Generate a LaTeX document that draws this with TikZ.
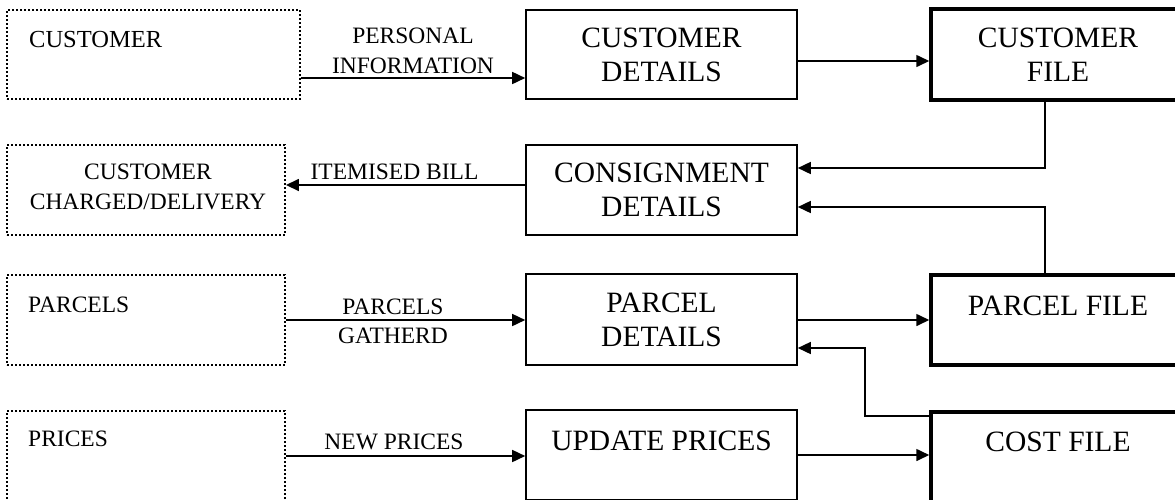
\documentclass[tikz,border=0pt]{standalone}
\usepackage{fontspec}
\setmainfont{Liberation Serif}
\usetikzlibrary{arrows.meta}
\newcommand\bigfont{\fontsize{29.5}{34}\selectfont}
\newcommand\smallfont{\fontsize{23.5}{29.5}\selectfont}
\begin{document}
\begin{tikzpicture}[x=1pt,y=-1pt,
  ext/.style={draw, line width=1.9pt, dash pattern=on 1.8pt off 2.2pt, minimum width=278pt, minimum height=90pt, inner sep=0pt},
  proc/.style={draw, line width=1.6pt, minimum width=271pt, minimum height=90pt, inner sep=0pt, align=center, font=\bigfont},
  store/.style={draw, line width=3.5pt, minimum width=254pt, minimum height=90pt, inner sep=0pt, align=center, font=\bigfont},
  small/.style={font=\smallfont, inner sep=0pt, align=center},
  bigtext/.style={font=\bigfont, inner sep=0pt, align=center},
  arr/.style={line width=1.6pt, -{Triangle[length=13pt,width=12pt]}}
]
\clip (0,0) rectangle (1175,499);
% external entities
\node[ext, minimum width=293pt, minimum height=89pt] (c1) at (153.5,54.5) {};
\node[ext] (c2) at (146,190) {};
\node[ext] (c3) at (146,320) {};
\node[ext] (c4) at (146,456) {};
\node[small, anchor=base west, font=\fontsize{24.5}{29.5}\selectfont] (t1) at (29,47) {CUSTOMER};
\node[small] (t2) at (148,187) {CUSTOMER\\CHARGED/DELIVERY};
\node[small, anchor=base west] (t3) at (28,312) {PARCELS};
\node[small, anchor=base west] (t4) at (28,446) {PRICES};
% processes
\node[proc, minimum height=89pt] (m1) at (661.5,54.5) {CUSTOMER\\DETAILS};
\node[proc] (m2) at (661.5,190) {CONSIGNMENT\\DETAILS};
\node[proc, minimum height=91pt] (m3) at (661.5,319.5) {PARCEL\\DETAILS};
\node[proc] (m4) at (661.5,455) {};
\node[bigtext] (t5) at (661.5,440.5) {UPDATE PRICES};
% stores
\node[store, minimum height=91pt] (f1) at (1058,54.5) {CUSTOMER\\FILE};
\node[store] (f2) at (1058,320) {};
\node[bigtext] (t6) at (1058,305.5) {PARCEL FILE};
\node[store] (f3) at (1058,457) {};
\node[bigtext] (t7) at (1058,442) {COST FILE};
% levels
\coordinate (y1) at (0,78);
\coordinate (y2) at (0,61);
\coordinate (k1) at (1045,168);
\coordinate (k2) at (1045,207);
\coordinate (y3) at (0,185);
\coordinate (y4) at (0,320);
\coordinate (k3) at (865,348);
\coordinate (y5) at (0,416);
\coordinate (y6) at (0,456);
\coordinate (y7) at (0,455);
% flows
\draw[arr] (c1.east |- y1) -- (m1.west |- y1);
\draw[arr] (m1.east |- y2) -- (f1.west |- y2);
\draw[arr] (f1.south -| k1) |- (m2.east |- k1);
\draw[arr] (f2.north -| k2) |- (m2.east |- k2);
\draw[arr] (m2.west |- y3) -- (c2.east |- y3);
\draw[arr] (c3.east |- y4) -- (m3.west |- y4);
\draw[arr] (m3.east |- y4) -- (f2.west |- y4);
\draw[arr] (f3.west |- y5) -| (k3) -- (m3.east |- k3);
\draw[arr] (c4.east |- y6) -- (m4.west |- y6);
\draw[arr] (m4.east |- y7) -- (f3.west |- y7);
% flow labels
\node[small] (l1) at (413,51) {PERSONAL\\INFORMATION};
\node[small] (l2) at (394.5,172) {ITEMISED BILL};
\node[small] (l3) at (393,321.5) {PARCELS\\GATHERD};
\node[small] (l4) at (394,442) {NEW PRICES};
\end{tikzpicture}
\end{document}
